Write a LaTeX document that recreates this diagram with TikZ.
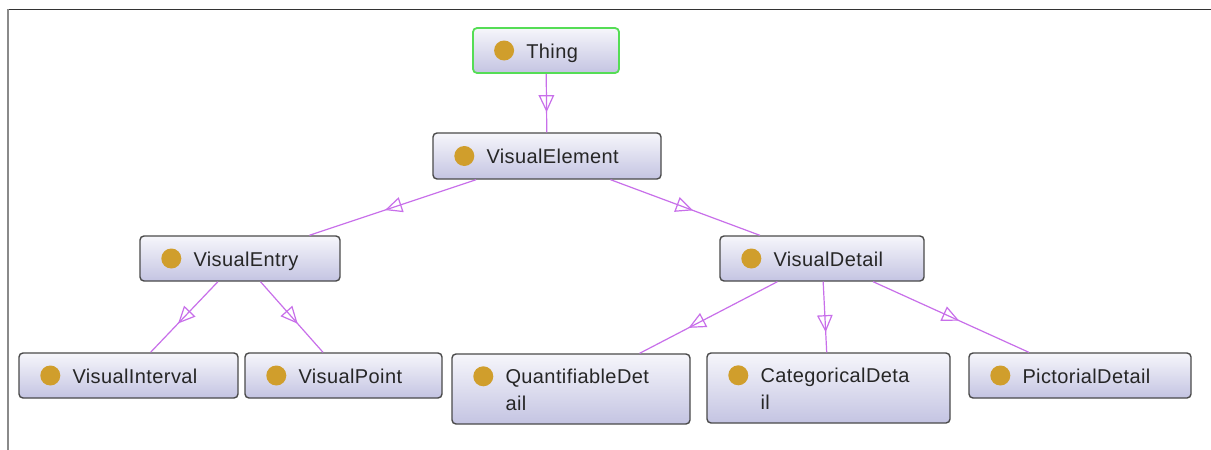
\documentclass[tikz,border=0pt]{standalone}
\usepackage{fontspec}
\setmainfont[LetterSpace=2]{Liberation Sans}
\usetikzlibrary{decorations.markings}
\definecolor{boxtop}{HTML}{F6F6FB}
\definecolor{boxbot}{HTML}{C4C4E2}
\definecolor{boxline}{HTML}{4A4A4A}
\definecolor{rootline}{HTML}{55DD55}
\definecolor{dotcol}{HTML}{D09E2C}
\definecolor{isacol}{HTML}{C86FEA}
\definecolor{frametop}{HTML}{333333}
\definecolor{frameleft}{HTML}{8A8A8A}
\begin{document}
\begin{tikzpicture}[x=1pt,y=-1pt,
  cls/.style={draw=boxline, line width=1.4pt, rounded corners=4pt,
    top color=boxtop, bottom color=boxbot, inner sep=0pt},
  root/.style={cls, draw=rootline, line width=1.8pt},
  bullet/.style={fill=dotcol},
  lbl/.style={anchor=base west, inner sep=0pt, text=black!85,
    font=\fontsize{20}{24}\selectfont},
  edge/.style={draw=isacol, line width=1.2pt},
  isatip/.style={draw=none, postaction={decorate}, decoration={markings,
    mark=at position 0.5 with {\draw[isacol, line width=1.2pt, line join=miter]
      (7.5pt,0pt) -- (-7.5pt,7pt) -- (-7.5pt,-7pt) -- cycle;}}}
]
\useasboundingbox (0,0) rectangle (1211,450);
\fill[white] (0,0) rectangle (1211,450);

% frame
\draw[frametop, line width=1.2pt] (7,9.5) -- (1211,9.5);
\draw[frameleft, line width=2pt] (7.5,9) -- (7.5,450);

% class boxes
\node[root, minimum width=146pt, minimum height=45pt] (thing) at (546,50.5) {};
\node[cls, minimum width=228pt, minimum height=46pt] (velem) at (547,156) {};
\node[cls, minimum width=200pt, minimum height=45pt] (ventry) at (240,258.5) {};
\node[cls, minimum width=204pt, minimum height=45pt] (vdetail) at (822,258.5) {};
\node[cls, minimum width=219pt, minimum height=45pt] (vinterval) at (128.5,375.5) {};
\node[cls, minimum width=197pt, minimum height=45pt] (vpoint) at (343.5,375.5) {};
\node[cls, minimum width=238pt, minimum height=70pt] (qdetail) at (571,389) {};
\node[cls, minimum width=243pt, minimum height=70pt] (cdetail) at (828.5,388) {};
\node[cls, minimum width=222pt, minimum height=45pt] (pdetail) at (1080,375.5) {};

% bullets and labels of one-line boxes
\foreach \n/\t in {thing/Thing, velem/VisualElement, ventry/VisualEntry,
  vdetail/VisualDetail, vinterval/VisualInterval, vpoint/VisualPoint,
  pdetail/PictorialDetail}{
  \fill[bullet] ([xshift=32pt]\n.west) circle (10pt);
  \node[lbl] (\n-l) at ([xshift=54pt,yshift=-7.5pt]\n.west) {\t};
}

% bullets and labels of two-line boxes
\fill[bullet] ([xshift=32pt,yshift=-23pt]qdetail.north west) circle (10pt);
\node[lbl] (qdetail-l1) at ([xshift=54pt,yshift=-30.5pt]qdetail.north west) {QuantifiableDet};
\node[lbl] (qdetail-l2) at ([xshift=54pt,yshift=-57pt]qdetail.north west) {ail};
\fill[bullet] ([xshift=32pt,yshift=-23pt]cdetail.north west) circle (10pt);
\node[lbl] (cdetail-l1) at ([xshift=54pt,yshift=-30.5pt]cdetail.north west) {CategoricalDeta};
\node[lbl] (cdetail-l2) at ([xshift=54pt,yshift=-57pt]cdetail.north west) {il};

% subclass links, head at the middle of each link
\foreach \p/\c in {thing/velem, velem/ventry, velem/vdetail,
  ventry/vinterval, ventry/vpoint,
  vdetail/qdetail, vdetail/cdetail, vdetail/pdetail}{
  \draw[edge] (\p) -- (\c);
  \path[isatip] (\p.center) -- (\c.center);
}
\end{tikzpicture}
\end{document}
